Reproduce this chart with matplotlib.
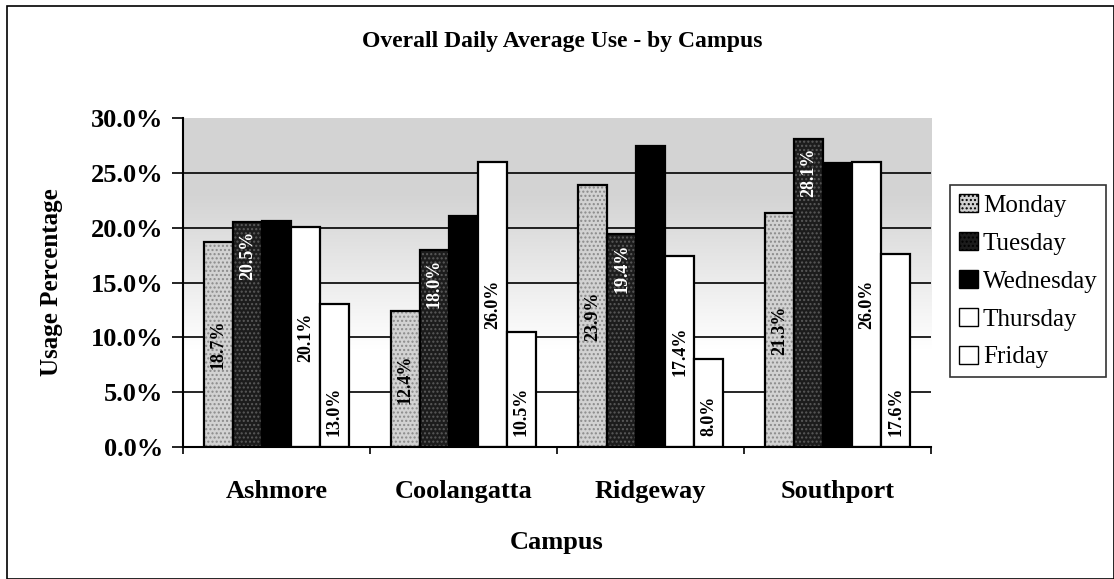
import numpy as np
import matplotlib
matplotlib.use("Agg")
import matplotlib.pyplot as plt
from matplotlib.patches import Rectangle, Patch

# data
campuses = ["Ashmore", "Coolangatta", "Ridgeway", "Southport"]
days = ["Monday", "Tuesday", "Wednesday", "Thursday", "Friday"]
monday = [18.7, 12.4, 23.9, 21.3]
tuesday = [20.5, 18.0, 19.4, 28.1]
wednesday = [20.6, 21.1, 27.5, 25.9]
thursday = [20.1, 26.0, 17.4, 26.0]
friday = [13.0, 10.5, 8.0, 17.6]
series = [monday, tuesday, wednesday, thursday, friday]

plt.rcParams['font.family'] = ['Liberation Serif', 'DejaVu Serif']

fig = plt.figure(figsize=(11.14, 5.79), dpi=100)
ax = fig.add_axes([0.164, 0.228, 0.672, 0.568])

ax.set_xlim(0, 4)
ax.set_ylim(0, 30)

# gray at the top fading to white lower down
yy = np.linspace(0, 30, 300).reshape(-1, 1)
level = 1 - 0.17 * np.clip((yy - 9) / 14, 0, 1)
img = np.repeat(level[:, :, None], 3, axis=2)
ax.imshow(img, extent=[0, 4, 0, 30], aspect='auto', origin='lower', zorder=0)

for v in range(5, 30, 5):
    ax.axhline(v, color='black', lw=1.2, zorder=1)

w = 0.155
x = np.arange(len(campuses)) + 0.5
faces = ['#d2d2d2', '#1c1c1c', '#000000', '#ffffff', '#ffffff']
hatches = ['....', '....', None, None, None]
hatch_cols = ['#8a8a8a', '#5a5a5a', None, None, None]

for i, vals in enumerate(series):
    xs = x + (i - 2) * w
    if hatches[i]:
        ax.bar(xs, vals, w, color=faces[i], hatch=hatches[i], edgecolor=hatch_cols[i],
               lw=0, zorder=2)
        ax.bar(xs, vals, w, fill=False, edgecolor='black', lw=1.6, zorder=3)
    else:
        ax.bar(xs, vals, w, color=faces[i], edgecolor='black', lw=1.6, zorder=2)
    for xi, v in zip(xs, vals):
        lab = f"{v:.1f}%"
        if i == 0 or i == 3:
            ax.text(xi, v / 2, lab, rotation=90, ha='center', va='center',
                    fontsize=13, fontweight='bold', color='black', zorder=4)
        elif i == 1:
            ax.text(xi, v - 0.8, lab, rotation=90, ha='center', va='top',
                    fontsize=13, fontweight='bold', color='white', zorder=4)
        elif i == 4:
            ax.text(xi, 1.0, lab, rotation=90, ha='center', va='bottom',
                    fontsize=13, fontweight='bold', color='black', zorder=4)

for s in ['top', 'right']:
    ax.spines[s].set_visible(False)
ax.spines['left'].set_linewidth(1.5)
ax.spines['bottom'].set_linewidth(1.5)

ax.set_yticks(range(0, 31, 5))
ax.set_yticklabels([f"{v:.1f}%" for v in range(0, 31, 5)], fontsize=19, fontweight='bold')
ax.tick_params(axis='y', length=8, width=1.2, pad=6)
ax.set_xticks(range(0, 5))
ax.set_xticklabels([])
ax.tick_params(axis='x', length=5, width=1.2)
ax.set_xticks(x, minor=True)
ax.set_xticklabels(campuses, minor=True, fontsize=19, fontweight='bold')
ax.tick_params(axis='x', which='minor', length=0, pad=24)

ax.set_xlabel("Campus", fontsize=19, fontweight='bold', labelpad=20)
ax.set_ylabel("Usage Percentage", fontsize=18, fontweight='bold', labelpad=20)
fig.text(0.505, 0.929, "Overall Daily Average Use - by Campus", ha='center', va='center',
         fontsize=17, fontweight='bold')

handles = [Patch(facecolor=faces[i], edgecolor='black', hatch=hatches[i]) for i in range(5)]
leg = fig.legend(handles, days, loc='upper left', bbox_to_anchor=(0.853, 0.68),
                 fontsize=18, frameon=True, fancybox=False, edgecolor='black',
                 handlelength=0.75, handleheight=0.75, handletextpad=0.2,
                 labelspacing=0.6, borderpad=0.35, borderaxespad=0)
leg.get_frame().set_linewidth(1.2)

fig.patches.append(Rectangle((0.006, 0.0), 0.994, 0.99, transform=fig.transFigure,
                             fill=False, edgecolor='black', lw=1.2))

fig.savefig("out.png", dpi=100)
